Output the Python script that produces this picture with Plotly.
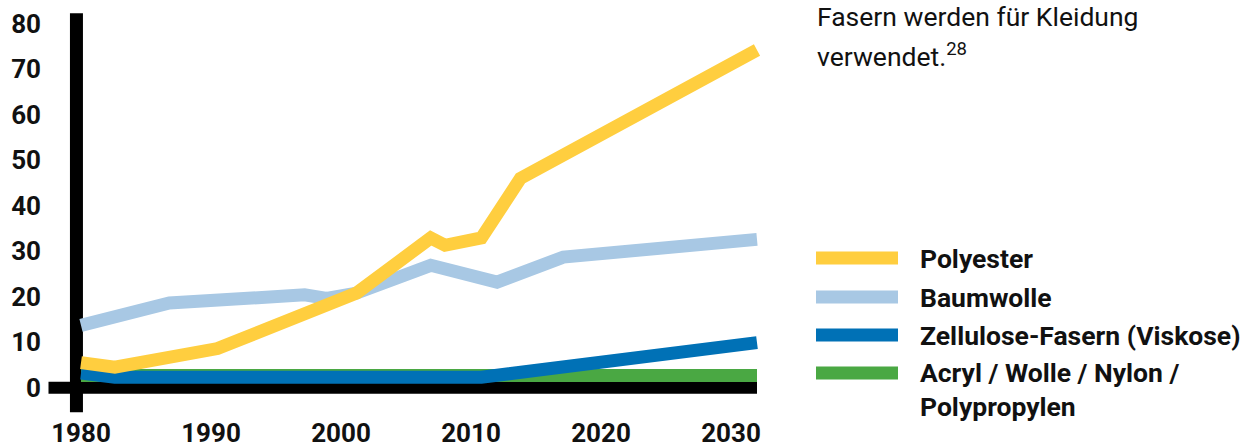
import plotly.graph_objects as go

# ---------------- data ----------------
poly_years = [1980, 1982.6, 1990.5, 2001.2, 2006.9, 2008.0, 2010.8, 2013.8, 2032]
poly_vals = [5.5, 4.5, 8.6, 20.8, 32.9, 31.3, 32.9, 46.0, 74.2]

baum_years = [1980, 1986.8, 1997.2, 1998.9, 2001.2, 2006.9, 2012.0, 2017.1, 2032]
baum_vals = [13.7, 18.6, 20.4, 19.6, 20.8, 26.9, 23.2, 28.7, 32.6]

zell_years = [1980, 1982.6, 2010.8, 2032]
zell_vals = [3.2, 2.3, 2.3, 9.9]

acryl_years = [1980, 2032]
acryl_vals = [2.7, 2.7]

series_names = ["Polyester", "Baumwolle", "Zellulose-Fasern (Viskose)",
                "Acryl / Wolle / Nylon / Polypropylen"]
legend_labels = ["Polyester", "Baumwolle", "Zellulose-Fasern (Viskose)",
                 "Acryl / Wolle / Nylon /<br>Polypropylen"]
colors = ["#FFCE3F", "#A8C8E4", "#0071B6", "#4AA843"]

x_ticks = [1980, 1990, 2000, 2010, 2020, 2030]
y_ticks = [0, 10, 20, 30, 40, 50, 60, 70, 80]

header_lines = ["Fasern werden für Kleidung", "verwendet.<sup>28</sup>"]

# ---------------- layout geometry ----------------
W, H = 1254, 448
ML, MR, MT, MB = 42, 484, 10, 33
PW, PH = W - ML - MR, H - MT - MB


def px2paper_x(px):
    return (px - ML) / PW


def px2paper_y(py):
    return (H - MB - py) / PH


fig = go.Figure()

data = [
    (acryl_years, acryl_vals, 3),
    (zell_years, zell_vals, 2),
    (baum_years, baum_vals, 1),
    (poly_years, poly_vals, 0),
]
for xs, ys, i in data:
    fig.add_trace(go.Scatter(
        x=xs, y=ys, mode="lines", name=series_names[i],
        line=dict(color=colors[i], width=13),
        showlegend=False, hoverinfo="x+y+name",
    ))

shapes = [
    # horizontal black axis (y = 0)
    dict(type="line", xref="x", yref="y", x0=1977.5, x1=2032, y0=0, y1=0,
         line=dict(color="black", width=12), layer="below"),
    # vertical black axis
    dict(type="line", xref="x", yref="y", x0=1979.65, x1=1979.65, y0=-5.4, y1=82.3,
         line=dict(color="black", width=13), layer="below"),
]

annotations = []
row_centers = [258, 297, 335, 373]
for i, cy in enumerate(row_centers):
    shapes.append(dict(
        type="rect", xref="paper", yref="paper",
        x0=px2paper_x(816), x1=px2paper_x(898),
        y0=px2paper_y(cy + 6.5), y1=px2paper_y(cy - 6.5),
        fillcolor=colors[i], line=dict(width=0),
    ))
    label_y = cy if "<br>" not in legend_labels[i] else cy + 16
    annotations.append(dict(
        xref="paper", yref="paper", x=px2paper_x(918), y=px2paper_y(label_y),
        xanchor="left", yanchor="middle", align="left", showarrow=False,
        text=legend_labels[i],
        font=dict(family="Roboto", size=26.5, color="#111111", weight="bold"),
    ))

for j, line in enumerate(header_lines):
    annotations.append(dict(
        xref="paper", yref="paper", x=px2paper_x(815), y=px2paper_y(16 + 39 * j),
        xanchor="left", yanchor="middle", align="left", showarrow=False,
        text=line,
        font=dict(family="Roboto", size=26.5, color="#111111"),
    ))

fig.update_layout(
    width=W, height=H,
    margin=dict(l=ML, r=MR, t=MT, b=MB, pad=0),
    paper_bgcolor="white", plot_bgcolor="white",
    showlegend=False,
    shapes=shapes,
    annotations=annotations,
    xaxis=dict(range=[1977, 2033], tickvals=x_ticks, ticktext=[str(v) for v in x_ticks],
               showgrid=False, zeroline=False, showline=False, ticks="",
               automargin=False,
               tickfont=dict(family="Roboto", size=26, color="#111111", weight="bold")),
    yaxis=dict(range=[-6, 83], tickvals=y_ticks, ticktext=[str(v) for v in y_ticks],
               showgrid=False, zeroline=False, showline=False, ticks="",
               automargin=False,
               tickfont=dict(family="Roboto", size=26, color="#111111", weight="bold")),
)

fig.write_html(
    "out.html",
    config={"displayModeBar": False},
    post_script="document.body.style.margin='0';document.body.style.overflow='hidden';",
)
